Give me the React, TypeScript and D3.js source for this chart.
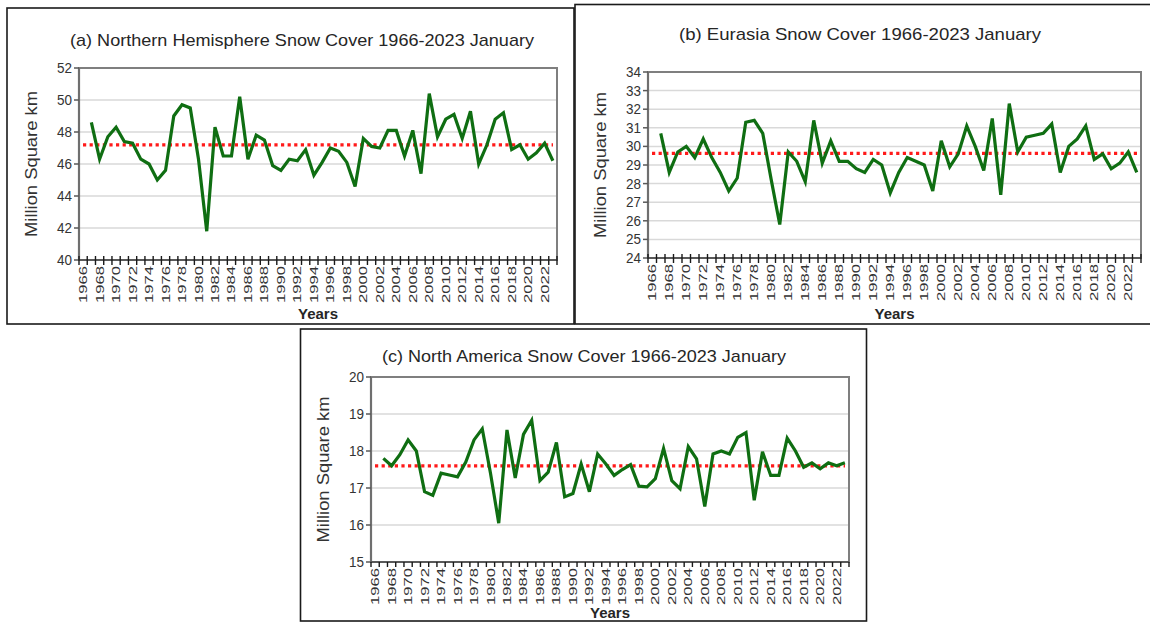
import React from 'react';
import * as d3 from 'd3';

// categories on the x axis (first year has no January value)
const years = d3.range(1966, 2024).map(String);
const valueYears = years.slice(1);

// January snow cover, million km², 1967-2023
const nhValues = [
  48.6, 46.3, 47.7, 48.3, 47.4, 47.3, 46.3, 46.0, 45.0, 45.6,
  49.0, 49.7, 49.5, 46.3, 41.8, 48.3, 46.5, 46.5, 50.2, 46.3,
  47.8, 47.5, 45.9, 45.6, 46.3, 46.2, 46.9, 45.3, 46.1, 47.0,
  46.8, 46.1, 44.6, 47.6, 47.1, 47.0, 48.1, 48.1, 46.5, 48.1,
  45.4, 50.4, 47.7, 48.8, 49.1, 47.6, 49.3, 46.0, 47.2, 48.8,
  49.2, 46.9, 47.2, 46.3, 46.7, 47.3, 46.2,
];
const euValues = [
  30.7, 28.6, 29.7, 30.0, 29.4, 30.4, 29.4, 28.6, 27.6, 28.3,
  31.3, 31.4, 30.7, 28.2, 25.8, 29.7, 29.2, 28.1, 31.4, 29.1,
  30.3, 29.2, 29.2, 28.8, 28.6, 29.3, 29.0, 27.5, 28.6, 29.4,
  29.2, 29.0, 27.6, 30.3, 28.9, 29.6, 31.1, 30.0, 28.7, 31.5,
  27.4, 32.3, 29.7, 30.5, 30.6, 30.7, 31.2, 28.6, 30.0, 30.4,
  31.1, 29.3, 29.6, 28.8, 29.1, 29.7, 28.6,
];
const naValues = [
  17.8, 17.6, 17.9, 18.3, 18.0, 16.9, 16.8, 17.4, 17.35, 17.3,
  17.7, 18.3, 18.6, 17.4, 16.05, 18.57, 17.27, 18.45, 18.83, 17.2,
  17.43, 18.23, 16.76, 16.85, 17.65, 16.9, 17.92, 17.65, 17.34, 17.5,
  17.63, 17.05, 17.03, 17.25, 18.07, 17.2, 16.98, 18.12, 17.79, 16.5,
  17.92, 18.0, 17.92, 18.37, 18.5, 16.67, 17.98, 17.34, 17.34, 18.35,
  18.0, 17.56, 17.68, 17.52, 17.68, 17.6, 17.68,
];

const titles = [
  '(a) Northern Hemisphere Snow Cover  1966-2023 January',
  '(b) Eurasia Snow Cover  1966-2023 January',
  '(c) North America Snow Cover  1966-2023 January',
];
const means = [47.2, 29.63, 17.6];
const yDomains: [number, number][] = [[40, 52], [24, 34], [15, 20]];
const yTickSteps = [2, 1, 1];

const FONT = '"Liberation Sans", Arial, sans-serif';

type Box = { x: number; y: number; w: number; h: number };

interface PanelProps {
  title: string;
  values: number[];
  mean: number;
  yDomain: [number, number];
  yStep: number;
  box: Box;
  plot: Box;
  titleX: number;
  titleY: number;
  titleLen: number;
  crossTicks: boolean;
  yearsDy: number;
}

function Panel(p: PanelProps) {
  const { plot } = p;
  const x = d3.scaleBand<string>().domain(years).range([plot.x, plot.x + plot.w]).padding(0);
  const y = d3.scaleLinear().domain(p.yDomain).range([plot.y + plot.h, plot.y]);
  const yTicks = d3.range(p.yDomain[0], p.yDomain[1] + 0.001, p.yStep);
  const cx = (yr: string) => (x(yr) ?? 0) + x.bandwidth() / 2;

  const line = d3.line<number>()
    .x((_, i) => cx(valueYears[i]))
    .y(d => y(d));

  const bottom = plot.y + plot.h;
  const boundaries = years.map(yr => x(yr) ?? 0).concat([plot.x + plot.w]);

  return (
    <g>
      <rect x={p.box.x} y={p.box.y} width={p.box.w} height={p.box.h} fill="#fff" stroke="#1a1a1a" strokeWidth={1.6} />
      <text x={p.titleX} y={p.titleY} textAnchor="middle" fontFamily={FONT} fontSize={17} fill="#262626"
        textLength={p.titleLen} lengthAdjust="spacingAndGlyphs">{p.title}</text>

      {/* gridlines */}
      {yTicks.slice(1, -1).map(t => (
        <line key={t} x1={plot.x} x2={plot.x + plot.w} y1={y(t)} y2={y(t)} stroke="#d9d9d9" strokeWidth={1.5} />
      ))}

      {/* mean */}
      <line x1={plot.x + 4} x2={plot.x + plot.w - 4} y1={y(p.mean)} y2={y(p.mean)}
        stroke="#ff1a1a" strokeWidth={3.2} strokeDasharray="3.2 3.4" />

      {/* series */}
      <path d={line(p.values) ?? ''} fill="none" stroke="#0f6e12" strokeWidth={3.2} strokeLinejoin="miter" />

      {/* frame */}
      <rect x={plot.x} y={plot.y} width={plot.w} height={plot.h} fill="none" stroke="#7f7f7f" strokeWidth={2} />
      <line x1={plot.x} x2={plot.x} y1={plot.y} y2={bottom} stroke="#6f6f6f" strokeWidth={2.2} />
      <line x1={plot.x} x2={plot.x + plot.w} y1={bottom} y2={bottom} stroke="#595959" strokeWidth={2.2} />

      {/* y ticks + labels */}
      {yTicks.map(t => (
        <g key={t}>
          <line x1={plot.x - 5} x2={plot.x} y1={y(t)} y2={y(t)} stroke="#595959" strokeWidth={1.5} />
          <text x={plot.x - 7} y={y(t)} dy="0.36em" textAnchor="end" fontFamily={FONT} fontSize={14} fill="#333"
            textLength={15} lengthAdjust="spacingAndGlyphs">{t}</text>
        </g>
      ))}

      {/* x ticks */}
      {boundaries.map((bx, i) => (
        <line key={i} x1={bx} x2={bx} y1={p.crossTicks ? bottom - 4 : bottom} y2={bottom + 5}
          stroke="#1a1a1a" strokeWidth={1.4} />
      ))}
      {years.filter((_, i) => i % 2 === 0).map(yr => (
        <text key={yr} transform={`translate(${cx(yr) + 4},${bottom + 6}) rotate(-90)`} textAnchor="end"
          fontFamily={FONT} fontSize={11.5} fill="#333" textLength={37} lengthAdjust="spacingAndGlyphs">{yr}</text>
      ))}

      <text x={plot.x + plot.w / 2} y={bottom + p.yearsDy} textAnchor="middle" fontFamily={FONT} fontSize={15}
        fontWeight="bold" fill="#262626">Years</text>
      <text transform={`translate(${plot.x - 42},${plot.y + plot.h / 2}) rotate(-90)`} textAnchor="middle"
        fontFamily={FONT} fontSize={17} fill="#333" textLength={146} lengthAdjust="spacingAndGlyphs">Million  Square  km</text>
    </g>
  );
}

export default function App() {
  return (
    <svg width={1150} height={623} style={{ position: 'absolute', left: 0, top: 0, background: '#fff' }}>
      <Panel title={titles[0]} values={nhValues} mean={means[0]} yDomain={yDomains[0]} yStep={yTickSteps[0]}
        box={{ x: 7, y: 8, w: 567, h: 316 }} plot={{ x: 79, y: 68, w: 478, h: 192 }}
        titleX={302} titleY={46} titleLen={464} crossTicks yearsDy={59} />
      <Panel title={titles[1]} values={euValues} mean={means[1]} yDomain={yDomains[1]} yStep={yTickSteps[1]}
        box={{ x: 575, y: 4.5, w: 590, h: 319.5 }} plot={{ x: 648, y: 72, w: 493, h: 186 }}
        titleX={860} titleY={40} titleLen={362} crossTicks yearsDy={61} />
      <Panel title={titles[2]} values={naValues} mean={means[2]} yDomain={yDomains[2]} yStep={yTickSteps[2]}
        box={{ x: 300.5, y: 329, w: 566, h: 292 }} plot={{ x: 371, y: 377, w: 478, h: 185 }}
        titleX={584} titleY={362} titleLen={404} crossTicks={false} yearsDy={56} />
    </svg>
  );
}
